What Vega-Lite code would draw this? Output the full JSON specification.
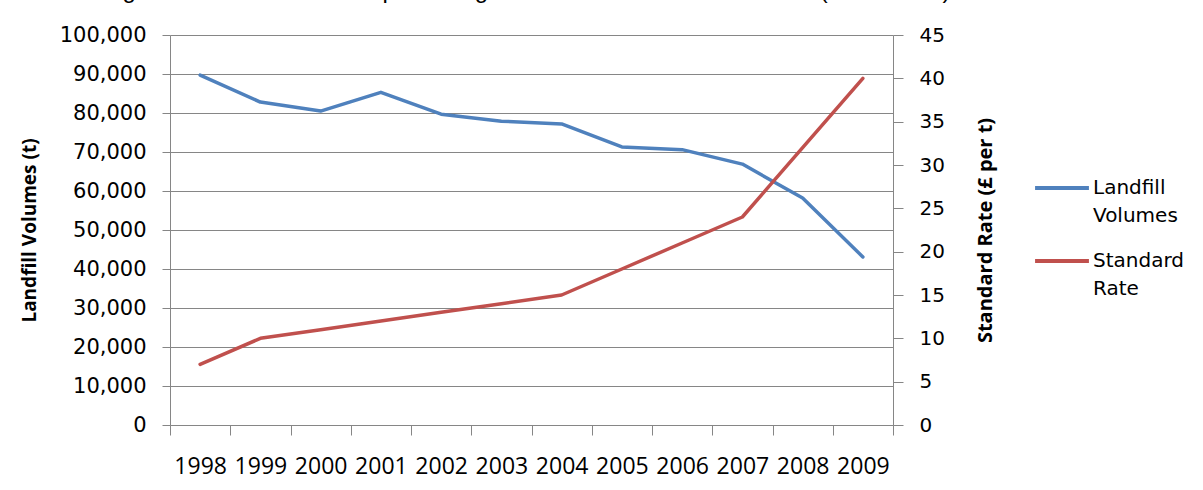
{
  "$schema": "https://vega.github.io/schema/vega-lite/v6.json",
  "width": 723,
  "height": 390,
  "autosize": {"type": "none"},
  "padding": {"left": 170, "top": 35, "right": 310, "bottom": 65},
  "background": "white",
  "title": {
    "text": "Figure 4: Landfill volumes plotted against standard Landfill Tax rate (1998-2009)",
    "anchor": "middle",
    "frame": "group",
    "font": "Liberation Sans",
    "fontSize": 24,
    "fontWeight": "normal",
    "color": "#000000",
    "baseline": "alphabetic",
    "offset": 0,
    "dx": -5,
    "dy": -2
  },
  "data": {
    "values": [
      {"year": "1998", "volume": 89700, "rate": 7},
      {"year": "1999", "volume": 82800, "rate": 10},
      {"year": "2000", "volume": 80500, "rate": 11},
      {"year": "2001", "volume": 85300, "rate": 12},
      {"year": "2002", "volume": 79700, "rate": 13},
      {"year": "2003", "volume": 77900, "rate": 14},
      {"year": "2004", "volume": 77200, "rate": 15},
      {"year": "2005", "volume": 71300, "rate": 18},
      {"year": "2006", "volume": 70600, "rate": 21},
      {"year": "2007", "volume": 66900, "rate": 24},
      {"year": "2008", "volume": 58200, "rate": 32},
      {"year": "2009", "volume": 43100, "rate": 40}
    ]
  },
  "encoding": {
    "x": {
      "field": "year",
      "type": "ordinal",
      "bandPosition": 0.5,
      "scale": {"type": "band", "paddingInner": 0, "paddingOuter": 0},
      "axis": {
        "title": null,
        "labelAngle": 0,
        "tickBand": "extent",
        "tickSize": 10,
        "tickColor": "#868686",
        "domainColor": "#868686",
        "labelFont": "Open Sans",
        "labelFontSize": 23,
        "labelColor": "#000000",
        "labelPadding": 20,
        "grid": false
      }
    }
  },
  "layer": [
    {
      "mark": {"type": "line", "strokeWidth": 3.5, "strokeJoin": "round", "strokeCap": "round"},
      "encoding": {
        "y": {
          "field": "volume",
          "type": "quantitative",
          "scale": {"domain": [0, 100000], "nice": false},
          "axis": {
            "orient": "left",
            "title": "Landfill Volumes (t)",
            "values": [0, 10000, 20000, 30000, 40000, 50000, 60000, 70000, 80000, 90000, 100000],
            "format": ",.0f",
            "grid": true,
            "gridColor": "#868686",
            "gridOpacity": 1,
            "domainColor": "#868686",
            "tickColor": "#868686",
            "tickSize": 8,
            "labelPadding": 16,
            "labelFont": "DejaVu Sans",
            "labelFontSize": 21,
            "labelColor": "#000000",
            "titleFont": "Open Sans",
            "titleFontSize": 19,
            "titleFontWeight": "bold",
            "titleColor": "#000000",
            "titlePadding": 20
          }
        },
        "color": {
          "datum": "Landfill Volumes",
          "type": "nominal",
          "scale": {"domain": ["Landfill Volumes", "Standard Rate"], "range": ["#4F81BD", "#C0504D"]},
          "legend": {
            "title": null,
            "orient": "none",
            "legendX": 863,
            "legendY": 124,
            "symbolType": "stroke",
            "symbolSize": 2900,
            "symbolStrokeWidth": 4,
            "labelFont": "DejaVu Sans",
            "labelFontSize": 20,
            "labelColor": "#000000",
            "labelLimit": 300,
            "labelOffset": 2,
            "labelExpr": "datum.label == 'Landfill Volumes' ? ['Landfill', 'Volumes'] : ['Standard', 'Rate']",
            "rowPadding": 6
          }
        }
      }
    },
    {
      "mark": {"type": "line", "strokeWidth": 3.5, "strokeJoin": "round", "strokeCap": "round"},
      "encoding": {
        "y": {
          "field": "rate",
          "type": "quantitative",
          "scale": {"domain": [0, 45], "nice": false},
          "axis": {
            "orient": "right",
            "title": "Standard Rate (£ per t)",
            "titleAngle": 270,
            "values": [0, 5, 10, 15, 20, 25, 30, 35, 40, 45],
            "grid": false,
            "domainColor": "#868686",
            "tickColor": "#868686",
            "tickSize": 10,
            "labelPadding": 16,
            "labelFont": "DejaVu Sans",
            "labelFontSize": 20,
            "labelColor": "#000000",
            "titleFont": "Open Sans",
            "titleFontSize": 20,
            "titleFontWeight": "bold",
            "titleColor": "#000000",
            "titlePadding": 51
          }
        },
        "color": {"datum": "Standard Rate", "type": "nominal"}
      }
    }
  ],
  "resolve": {"scale": {"y": "independent"}},
  "config": {
    "view": {"stroke": null},
    "style": {"guide-label": {"lineHeight": 28}}
  }
}
